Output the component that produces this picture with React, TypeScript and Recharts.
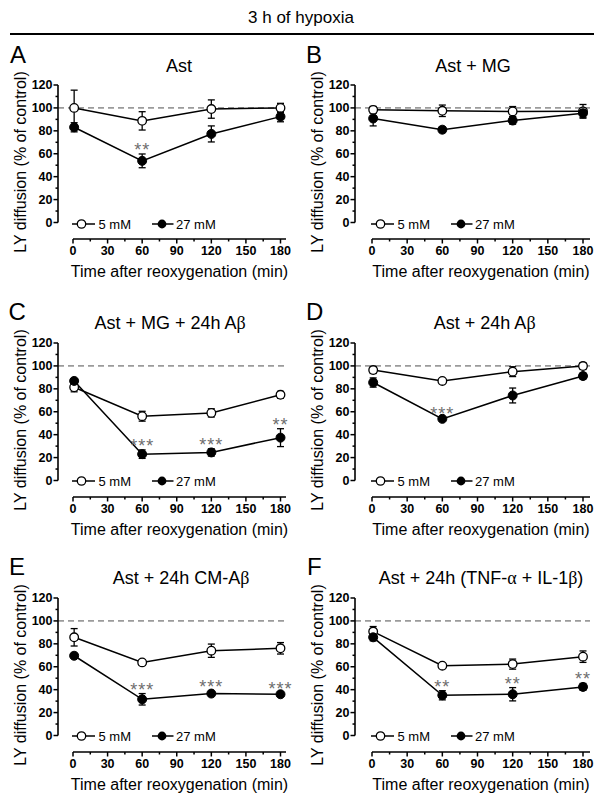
import React from 'react';
import { LineChart, Line, XAxis, YAxis, ErrorBar, ReferenceLine, ReferenceDot, Legend, Label } from 'recharts';

const FONT = "'Liberation Sans', Arial, Helvetica, sans-serif";
const GREEK_FONT = "'Liberation Serif', 'Times New Roman', serif";

// ---------------- data ----------------
const times = [1, 60, 120, 180];
const xTicks = [0, 15, 30, 45, 60, 75, 90, 105, 120, 135, 150, 165, 180];
const yTicks = [0, 10, 20, 30, 40, 50, 60, 70, 80, 90, 100, 110, 120];
const seriesNames = ['5 mM', '27 mM'];
const headerText = '3 h of hypoxia';
const xTitle = 'Time after reoxygenation (min)';
const yTitle = 'LY diffusion (% of control)';
const controlLevel = 100;

const panelLetters = ['A', 'B', 'C', 'D', 'E', 'F'];
const panelTitles = [
  'Ast',
  'Ast + MG',
  'Ast + MG + 24h Aβ',
  'Ast + 24h Aβ',
  'Ast + 24h CM-Aβ',
  'Ast + 24h (TNF-α + IL-1β)',
];

// A: Ast
const astLow = [100, 88.7, 99, 100];
const astLowSem = [15.5, 8, 8, 4];
const astHigh = [83.1, 53.8, 77.3, 92.4];
const astHighSem = [4, 6, 7, 4.5];
const astStars = ['', '**', '', ''];

// B: Ast + MG
const mgLow = [98.3, 97.5, 96.9, 97];
const mgLowSem = [3, 5, 4.3, 6];
const mgHigh = [90.8, 81, 89, 95.4];
const mgHighSem = [6.5, 2.5, 3.2, 3.5];
const mgStars = ['', '', '', ''];

// C: Ast + MG + 24h Abeta
const mgAbLow = [81.4, 56.1, 59, 74.8];
const mgAbLowSem = [4, 4.3, 3.6, 3];
const mgAbHigh = [86.9, 23, 24.5, 37.4];
const mgAbHighSem = [2, 3.7, 3.2, 7.8];
const mgAbStars = ['', '***', '***', '**'];

// D: Ast + 24h Abeta
const abLow = [96.4, 86.9, 95, 99.9];
const abLowSem = [3, 1, 4.3, 3];
const abHigh = [85.5, 53.8, 74.2, 91.2];
const abHighSem = [4, 1, 6.5, 2.6];
const abStars = ['', '***', '', ''];

// E: Ast + 24h CM-Abeta
const cmLow = [85.7, 63.8, 74, 76.1];
const cmLowSem = [7.6, 2.2, 5.8, 5];
const cmHigh = [69.6, 31.6, 36.6, 36];
const cmHighSem = [2, 5, 2, 1];
const cmStars = ['', '***', '***', '***'];

// F: Ast + 24h (TNF-alpha + IL-1beta)
const cytLow = [90.7, 60.9, 62.3, 68.8];
const cytLowSem = [4.4, 1, 4.4, 5];
const cytHigh = [85.7, 35.1, 36, 42.4];
const cytHighSem = [3, 4, 5.8, 3];
const cytStars = ['', '**', '**', '**'];

const panelSeries = [
  { low: astLow, lowSem: astLowSem, high: astHigh, highSem: astHighSem, stars: astStars },
  { low: mgLow, lowSem: mgLowSem, high: mgHigh, highSem: mgHighSem, stars: mgStars },
  { low: mgAbLow, lowSem: mgAbLowSem, high: mgAbHigh, highSem: mgAbHighSem, stars: mgAbStars },
  { low: abLow, lowSem: abLowSem, high: abHigh, highSem: abHighSem, stars: abStars },
  { low: cmLow, lowSem: cmLowSem, high: cmHigh, highSem: cmHighSem, stars: cmStars },
  { low: cytLow, lowSem: cytLowSem, high: cytHigh, highSem: cytHighSem, stars: cytStars },
];

// ---------------- layout ----------------
const ROW_TOPS = [85, 342.5, 597.5]; // page y of the value 120
const PLOT_TOP = 20;
const PLOT_H = 154;
const Y120_H = 137.5;
const Y_SCALE = Y120_H / 120;
const Y_MIN = -(PLOT_H - Y120_H) / Y_SCALE;
const X_AXIS_H = 50;
const CHART_W = 300;
const CHART_H = PLOT_TOP + PLOT_H + X_AXIS_H;

const COLS = [
  { left: 0, axisX: 58, x0: 73, x180: 280.5, xEnd: 286 },
  { left: 300, axisX: 55, x0: 72, x180: 283, xEnd: 290 },
];
const TITLE_X = [179, 473, 170, 484.7, 181, 481];
const LETTER_X = [10, 306, 8.5, 306, 9, 307];

const XTick = (props: any) => {
  const { x, y, payload } = props;
  const v = payload.value;
  const major = v % 30 === 0;
  return (
    <g>
      <line x1={x} y1={y} x2={x} y2={y + (major ? 4.5 : 2.5)} stroke="#000" strokeWidth={1.5} />
      {major && (
        <text x={x} y={y + 15.8} textAnchor="middle" fontSize={12.5} fontWeight="bold" fontFamily={FONT} fill="#000">
          {v}
        </text>
      )}
    </g>
  );
};

const YTick = (props: any) => {
  const { x, y, payload } = props;
  const v = payload.value;
  const major = v % 20 === 0;
  return (
    <g>
      <line x1={x - (major ? 4.5 : 2.5)} y1={y} x2={x} y2={y} stroke="#000" strokeWidth={1.5} />
      {major && (
        <text x={x - 5.5} y={y + 4.4} textAnchor="end" fontSize={12.5} fontWeight="bold" fontFamily={FONT} fill="#000">
          {v}
        </text>
      )}
    </g>
  );
};

const LegendContent = () => (
  <svg width={170} height={16} style={{ display: 'block' }}>
    <line x1={0} y1={8} x2={23} y2={8} stroke="#000" strokeWidth={1.5} />
    <circle cx={9.5} cy={8} r={4.2} fill="#fff" stroke="#000" strokeWidth={1.3} />
    <text x={26.5} y={12.6} fontSize={13} fontFamily={FONT} fill="#000">{seriesNames[0]}</text>
    <line x1={80} y1={8} x2={101.5} y2={8} stroke="#000" strokeWidth={1.5} />
    <circle cx={90} cy={8} r={4.4} fill="#000" />
    <text x={104} y={12.6} fontSize={13} fontFamily={FONT} fill="#000">{seriesNames[1]}</text>
  </svg>
);

function Panel({ idx }: { idx: number }) {
  const s = panelSeries[idx];
  const row = Math.floor(idx / 2);
  const c = COLS[idx % 2];
  const xScale = (c.x180 - c.x0) / 180;
  const xMin = -(c.x0 - c.axisX) / xScale;
  const xMax = 180 + (c.xEnd - c.x180) / xScale;
  const gap = c.x0 - c.axisX;
  const data = times.map((t, i) => ({
    t,
    low: s.low[i],
    lowSem: s.lowSem[i],
    high: s.high[i],
    highSem: s.highSem[i],
  }));

  const XTitle = () => (
    <text x={(c.x0 + c.xEnd) / 2} y={PLOT_TOP + PLOT_H + 38} textAnchor="middle" fontSize={16} fontFamily={FONT} fill="#000">
      {xTitle}
    </text>
  );
  const YTitle = () => (
    <text
      transform={`translate(${c.axisX - 32}, ${PLOT_TOP + PLOT_H / 2}) rotate(-90)`}
      textAnchor="middle"
      fontSize={16}
      fontFamily={FONT}
      fill="#000"
    >
      {yTitle}
    </text>
  );

  return (
    <div style={{ position: 'absolute', left: c.left, top: ROW_TOPS[row] - PLOT_TOP, width: CHART_W, height: CHART_H }}>
      <LineChart
        width={CHART_W}
        height={CHART_H}
        data={data}
        margin={{ top: PLOT_TOP, right: CHART_W - c.xEnd, bottom: 0, left: 0 }}
      >
        <XAxis
          type="number"
          dataKey="t"
          domain={[xMin, xMax]}
          allowDataOverflow
          ticks={xTicks}
          interval={0}
          tickSize={0}
          tickMargin={0}
          tickLine={false}
          tick={<XTick />}
          height={X_AXIS_H}
          axisLine={{ stroke: '#000', strokeWidth: 1.6, strokeDasharray: `0 ${gap} 2000 0` }}
        >
          <Label content={XTitle} />
        </XAxis>
        <YAxis
          type="number"
          domain={[Y_MIN, 120]}
          allowDataOverflow
          ticks={yTicks}
          interval={0}
          tickSize={0}
          tickMargin={0}
          tickLine={false}
          tick={<YTick />}
          width={c.axisX}
          axisLine={{ stroke: '#000', strokeWidth: 1.6, strokeDasharray: `${Y120_H} 2000` }}
        >
          <Label content={YTitle} />
        </YAxis>
        <ReferenceLine y={controlLevel} stroke="#9b9b9b" strokeWidth={1.6} strokeDasharray="6 4" />
        <Line
          name={seriesNames[0]}
          dataKey="low"
          stroke="#000"
          strokeWidth={1.5}
          isAnimationActive={false}
          dot={{ r: 4.3, fill: '#fff', stroke: '#000', strokeWidth: 1.3 }}
          activeDot={false}
        >
          <ErrorBar dataKey="lowSem" direction="y" width={3.5} stroke="#000" strokeWidth={1.3} />
        </Line>
        <Line
          name={seriesNames[1]}
          dataKey="high"
          stroke="#000"
          strokeWidth={1.5}
          isAnimationActive={false}
          dot={{ r: 4.5, fill: '#000', stroke: '#000', strokeWidth: 1 }}
          activeDot={false}
        >
          <ErrorBar dataKey="highSem" direction="y" width={3.5} stroke="#000" strokeWidth={1.3} />
        </Line>
        {s.stars.map((st, i) =>
          st ? (
            <ReferenceDot
              key={i}
              x={times[i]}
              y={s.high[i] + s.highSem[i]}
              r={0}
              fill="none"
              stroke="none"
              label={{ value: st, position: 'top', offset: -2, fill: '#6e6e6e', fontSize: 18, fontFamily: FONT, style: { letterSpacing: '1px' } }}
            />
          ) : null
        )}
        <Legend
          layout="horizontal"
          verticalAlign="middle"
          align="center"
          content={<LegendContent />}
          wrapperStyle={{
            position: 'absolute',
            left: c.x0 - 1.3,
            top: PLOT_TOP + Y120_H + 1 - 8,
            width: 170,
            height: 16,
            margin: 0,
            padding: 0,
            lineHeight: 0,
          }}
        />
      </LineChart>
    </div>
  );
}

function TitleText({ text, x, y }: { text: string; x: number; y: number }) {
  const parts = text.split(/([αβ])/);
  return (
    <text x={x} y={y} textAnchor="middle" fontSize={18} fontFamily={FONT} fill="#000">
      {parts.map((p, i) =>
        p === 'α' || p === 'β' ? (
          <tspan key={i} fontFamily={GREEK_FONT}>{p}</tspan>
        ) : (
          <tspan key={i}>{p}</tspan>
        )
      )}
    </text>
  );
}

export default function App() {
  return (
    <div style={{ position: 'absolute', left: 0, top: 0, width: 603, height: 799, background: '#fff', fontFamily: FONT }}>
      <svg width={603} height={799} style={{ position: 'absolute', left: 0, top: 0 }}>
        <text x={301} y={23} textAnchor="middle" fontSize={17} fontFamily={FONT} fill="#000">{headerText}</text>
        <line x1={10} y1={34} x2={594} y2={34} stroke="#000" strokeWidth={2} />
        {panelLetters.map((l, i) => {
          const row = Math.floor(i / 2);
          return (
            <text key={l} x={LETTER_X[i]} y={ROW_TOPS[row] - 22.3} fontSize={24} fontFamily={FONT} fill="#000">{l}</text>
          );
        })}
        {panelTitles.map((t, i) => {
          const row = Math.floor(i / 2);
          return <TitleText key={i} text={t} x={TITLE_X[i]} y={ROW_TOPS[row] - 13.5} />;
        })}
      </svg>
      {panelSeries.map((_, i) => (
        <Panel key={i} idx={i} />
      ))}
    </div>
  );
}
